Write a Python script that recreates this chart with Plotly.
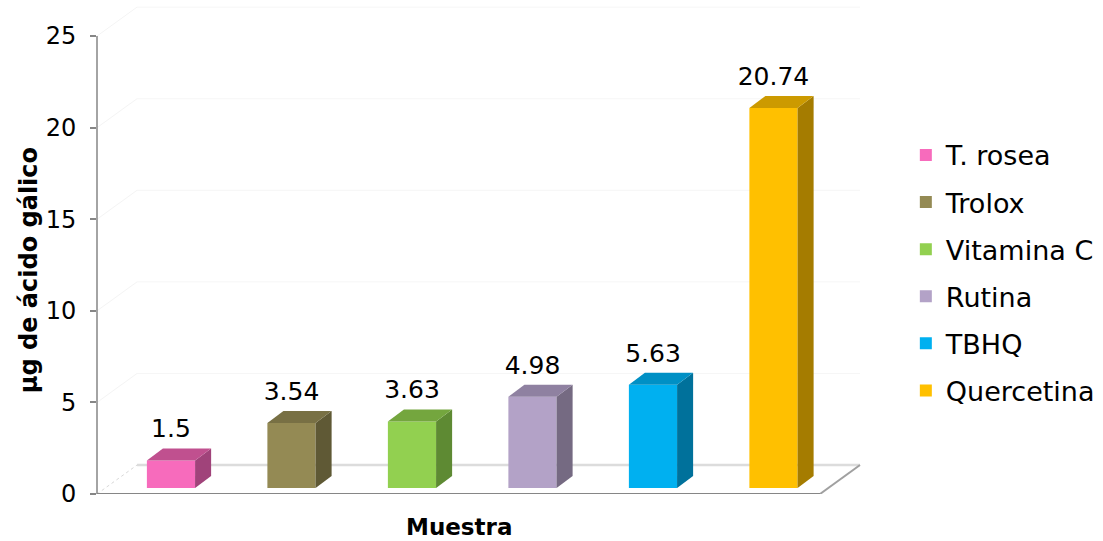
import plotly.graph_objects as go

# ---------------- data ----------------
categories = ["T. rosea", "Trolox", "Vitamina C", "Rutina", "TBHQ", "Quercetina"]
values = [1.5, 3.54, 3.63, 4.98, 5.63, 20.74]
value_labels = ["1.5", "3.54", "3.63", "4.98", "5.63", "20.74"]
y_ticks = [0, 5, 10, 15, 20, 25]
y_title = "µg de ácido gálico"
x_title = "Muestra"

# ---------------- style ----------------
front_colors = ["#F76BBC", "#948A54", "#92D050", "#B3A2C7", "#00B0F0", "#FFC000"]
top_colors = ["#C0508F", "#787044", "#74A63E", "#8F81A1", "#0090C5", "#CC9A00"]
side_colors = ["#A0437A", "#5F5935", "#5E8A33", "#756A82", "#00719B", "#A57C00"]

FONT = "DejaVu Sans"
BAR_W = 0.40
BAR_BASE = 0.33
BAR_DX = 0.133
BAR_DY = 0.655
FLOOR_DX = 0.332
FLOOR_DY = 1.58
X_MIN = -0.614
X_MAX = 5.884
FLOOR_RIGHT = len(categories) - 1 + 0.386
Y_MAX = 26.86
LABEL_GAP = 1.6

fig = go.Figure()

# front faces (real bars, also give the legend)
for i, (cat, v) in enumerate(zip(categories, values)):
    fig.add_trace(go.Bar(
        x=[i], y=[v], base=BAR_BASE, width=BAR_W, name=cat, legendgroup=cat,
        marker=dict(color=front_colors[i], line=dict(width=0)),
        hoverinfo="name+y",
    ))

# side and top faces of the 3D columns
for i, v in enumerate(values):
    xr = i + BAR_W / 2
    xl = i - BAR_W / 2
    top = v + BAR_BASE
    fig.add_trace(go.Scatter(
        x=[xr, xr + BAR_DX, xr + BAR_DX, xr, xr],
        y=[BAR_BASE, BAR_BASE + BAR_DY, top + BAR_DY, top, BAR_BASE],
        fill="toself", fillcolor=side_colors[i], mode="lines",
        line=dict(width=0, color=side_colors[i]), showlegend=False, hoverinfo="skip",
    ))
    fig.add_trace(go.Scatter(
        x=[xl, xl + BAR_DX, xr + BAR_DX, xr, xl],
        y=[top, top + BAR_DY, top + BAR_DY, top, top],
        fill="toself", fillcolor=top_colors[i], mode="lines",
        line=dict(width=0, color=top_colors[i]), showlegend=False, hoverinfo="skip",
    ))

# value labels
fig.add_trace(go.Scatter(
    x=list(range(len(categories))),
    y=[v + BAR_BASE + LABEL_GAP for v in values],
    text=value_labels, mode="text", textposition="middle center",
    textfont=dict(family=FONT, size=25, color="#000000"),
    showlegend=False, hoverinfo="skip",
))

# ---------------- walls & floor (decoration shapes, below traces) ----------------
shapes = []
for t in y_ticks:
    if t > 0:
        shapes.append(dict(type="line", xref="x", yref="y", layer="below",
                           x0=X_MIN + FLOOR_DX, x1=FLOOR_RIGHT + FLOOR_DX,
                           y0=t + FLOOR_DY, y1=t + FLOOR_DY,
                           line=dict(color="#F6F6F6", width=1)))
        shapes.append(dict(type="line", xref="x", yref="y", layer="below",
                           x0=X_MIN, x1=X_MIN + FLOOR_DX, y0=t, y1=t + FLOOR_DY,
                           line=dict(color="#F4F4F4", width=1)))
# floor back edge
shapes.append(dict(type="line", xref="x", yref="y", layer="below",
                   x0=X_MIN + FLOOR_DX, x1=FLOOR_RIGHT + FLOOR_DX, y0=FLOOR_DY, y1=FLOOR_DY,
                   line=dict(color="#DCDCDC", width=2.5)))
# floor left edge (dashed)
shapes.append(dict(type="line", xref="x", yref="y", layer="below",
                   x0=X_MIN, x1=X_MIN + FLOOR_DX, y0=0, y1=FLOOR_DY,
                   line=dict(color="#D8D8D8", width=1, dash="dot")))
# floor right edge
shapes.append(dict(type="line", xref="x", yref="y", layer="below",
                   x0=FLOOR_RIGHT, x1=FLOOR_RIGHT + FLOOR_DX, y0=0, y1=FLOOR_DY,
                   line=dict(color="#A0A0A0", width=2)))
# floor front edge with a soft shadow
shapes.append(dict(type="line", xref="x", yref="y", layer="below",
                   x0=X_MIN, x1=FLOOR_RIGHT, y0=-0.12, y1=-0.12,
                   line=dict(color="#D0D0D0", width=2)))
shapes.append(dict(type="line", xref="x", yref="y", layer="below",
                   x0=X_MIN, x1=FLOOR_RIGHT, y0=0, y1=0,
                   line=dict(color="#868686", width=2)))
# value axis line (front-left edge)
shapes.append(dict(type="line", xref="paper", yref="y", layer="above",
                   x0=0, x1=0, y0=0, y1=y_ticks[-1],
                   line=dict(color="#868686", width=1.5)))

fig.update_layout(
    width=1103, height=541,
    margin=dict(l=97, r=223, t=2, b=47),
    paper_bgcolor="white", plot_bgcolor="white",
    barmode="overlay",
    shapes=shapes,
    font=dict(family=FONT, color="#000000"),
    xaxis=dict(range=[X_MIN, X_MAX], visible=False, fixedrange=True),
    yaxis=dict(range=[0, Y_MAX], tickvals=y_ticks, ticktext=[str(t) for t in y_ticks],
               showgrid=False, zeroline=False, showline=False,
               ticks="outside", ticklen=6, tickwidth=1.5, tickcolor="#868686",
               ticklabelstandoff=9,
               tickfont=dict(family=FONT, size=24, color="#000000"), fixedrange=True),
    legend=dict(x=1.033, xanchor="left", y=0.738, yanchor="top",
                font=dict(family=FONT, size=27, color="#000000"),
                tracegroupgap=9, traceorder="grouped", bgcolor="rgba(0,0,0,0)"),
    annotations=[
        dict(text=y_title, xref="paper", yref="paper", x=-0.0868, y=0.455,
             xanchor="center", yanchor="middle", textangle=-90, showarrow=False,
             font=dict(family=FONT, size=24, color="#000000", weight="bold")),
        dict(text=x_title, xref="paper", yref="paper", x=0.462, y=-0.067,
             xanchor="center", yanchor="middle", showarrow=False,
             font=dict(family=FONT, size=23, color="#000000", weight="bold")),
    ],
)

fig.write_html("out.html")
